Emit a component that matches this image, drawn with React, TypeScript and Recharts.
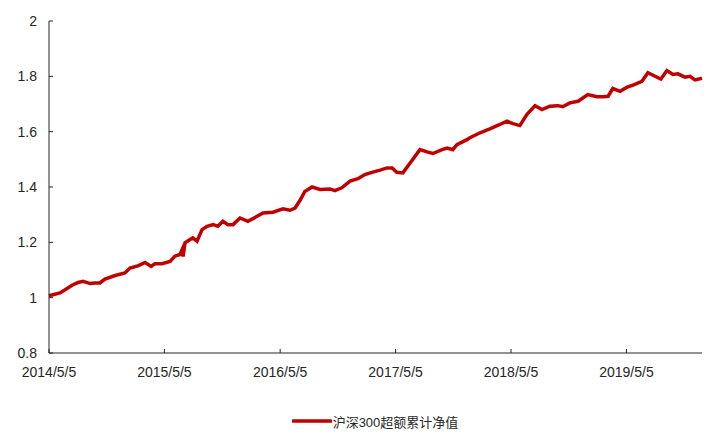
import React from 'react';
import { LineChart, Line, XAxis, YAxis, Legend } from 'recharts';

const dates: string[] = [
  '2014-05-05', '2014-06-09', '2014-07-17', '2014-08-05', '2014-08-21', '2014-09-12', '2014-09-27', '2014-10-13',
  '2014-10-29', '2014-11-30', '2014-12-31', '2015-01-16', '2015-02-10', '2015-03-05', '2015-03-24', '2015-04-05',
  '2015-04-27', '2015-05-23', '2015-06-07', '2015-06-23', '2015-06-30', '2015-07-03', '2015-07-09', '2015-07-25',
  '2015-08-03', '2015-08-16', '2015-09-01', '2015-09-17', '2015-10-06', '2015-10-21', '2015-11-06', '2015-11-22',
  '2015-12-08', '2015-12-30', '2016-01-24', '2016-02-22', '2016-03-12', '2016-04-12', '2016-05-14', '2016-06-05',
  '2016-06-21', '2016-07-07', '2016-07-22', '2016-08-14', '2016-09-08', '2016-10-10', '2016-10-25', '2016-11-16',
  '2016-12-12', '2017-01-06', '2017-01-28', '2017-02-19', '2017-03-17', '2017-04-08', '2017-04-24', '2017-05-09',
  '2017-05-28', '2017-06-20', '2017-07-21', '2017-08-15', '2017-08-31', '2017-09-29', '2017-10-15', '2017-11-02',
  '2017-11-15', '2017-12-17', '2017-12-26', '2018-01-27', '2018-02-27', '2018-03-31', '2018-04-22', '2018-05-11',
  '2018-06-02', '2018-06-24', '2018-07-20', '2018-08-11', '2018-09-05', '2018-09-30', '2018-10-16', '2018-11-07',
  '2018-12-03', '2019-01-03', '2019-02-01', '2019-02-20', '2019-03-08', '2019-03-23', '2019-04-15', '2019-05-07',
  '2019-05-26', '2019-06-23', '2019-07-12', '2019-08-13', '2019-08-22', '2019-09-10', '2019-09-29', '2019-10-15',
  '2019-11-06', '2019-11-22', '2019-12-08', '2019-12-30',
];

const netValues: number[] = [
  1.007, 1.017, 1.045, 1.055, 1.059, 1.051, 1.053, 1.053,
  1.067, 1.08, 1.089, 1.107, 1.115, 1.127, 1.113, 1.123,
  1.123, 1.131, 1.15, 1.156, 1.174, 1.149, 1.198, 1.21,
  1.216, 1.204, 1.246, 1.258, 1.264, 1.258, 1.276, 1.264,
  1.264, 1.288, 1.276, 1.294, 1.306, 1.309, 1.321, 1.316,
  1.324, 1.352, 1.384, 1.4, 1.391, 1.393, 1.387, 1.397,
  1.421, 1.43, 1.445, 1.453, 1.461, 1.469, 1.469, 1.453,
  1.451, 1.487, 1.535, 1.526, 1.521, 1.535, 1.541, 1.535,
  1.553, 1.571, 1.578, 1.596, 1.61, 1.626, 1.638, 1.629,
  1.622, 1.662, 1.694, 1.68, 1.692, 1.694, 1.69, 1.704,
  1.71, 1.734, 1.726, 1.726, 1.728, 1.756, 1.746, 1.761,
  1.768, 1.782, 1.813, 1.795, 1.79, 1.821, 1.807, 1.809,
  1.797, 1.8, 1.787, 1.793,
];

const xTickLabels: string[] = ['2014/5/5', '2015/5/5', '2016/5/5', '2017/5/5', '2018/5/5', '2019/5/5'];
const yTicks: number[] = [0.8, 1, 1.2, 1.4, 1.6, 1.8, 2];
const seriesName = '沪深300超额累计净值';

const toTs = (s: string) => {
  const [y, m, d] = s.split(/[-/]/).map(Number);
  return Date.UTC(y, m - 1, d);
};

const data = dates.map((d, i) => ({ t: toTs(d), v: netValues[i] }));
const xTicks = xTickLabels.map(toTs);
const labelFor = (ts: number) => {
  const i = xTicks.indexOf(ts);
  return i >= 0 ? xTickLabels[i] : '';
};

const FONT = '"Liberation Sans", Arial, "Noto Sans CJK SC", sans-serif';
const RED = '#C00000';
const AXIS = '#262626';

const LegendContent = () => (
  <div
    style={{
      width: 708,
      height: 45,
      boxSizing: 'border-box',
      paddingTop: 18,
      paddingLeft: 42,
      display: 'flex',
      justifyContent: 'center',
    }}
  >
    <div style={{ display: 'flex', alignItems: 'center', height: 20 }}>
      <svg width={40} height={20} style={{ display: 'block' }}>
        <line x1={1} y1={10} x2={39} y2={10} stroke={RED} strokeWidth={3.5} strokeLinecap="round" />
      </svg>
      <span style={{ fontFamily: FONT, fontSize: 13, color: '#262626', marginLeft: 1 }}>{seriesName}</span>
    </div>
  </div>
);

export default function App() {
  return (
    <div style={{ position: 'absolute', left: 0, top: 0, background: '#fff' }}>
      <LineChart width={708} height={438} data={data} margin={{ top: 21, right: 6, left: 0, bottom: 0 }}>
        <XAxis
          dataKey="t"
          type="number"
          scale="time"
          domain={['dataMin', 'dataMax']}
          ticks={xTicks}
          tickFormatter={labelFor}
          height={40}
          tickSize={-4}
          tickMargin={18}
          stroke={AXIS}
          tick={{ fill: '#262626', fontSize: 14, fontFamily: FONT }}
          axisLine={{ stroke: AXIS, strokeWidth: 1 }}
          tickLine={{ stroke: AXIS }}
        />
        <YAxis
          dataKey="v"
          type="number"
          domain={[0.8, 2]}
          ticks={yTicks}
          width={49}
          tickSize={-4}
          tickMargin={16}
          stroke={AXIS}
          tick={{ fill: '#262626', fontSize: 14, fontFamily: FONT }}
          axisLine={{ stroke: AXIS, strokeWidth: 1 }}
          tickLine={{ stroke: AXIS }}
          allowDataOverflow
        />
        <Legend verticalAlign="bottom" content={<LegendContent />} />
        <Line
          type="linear"
          dataKey="v"
          name={seriesName}
          stroke={RED}
          strokeWidth={3.5}
          dot={false}
          activeDot={false}
          isAnimationActive={false}
        />
      </LineChart>
    </div>
  );
}
